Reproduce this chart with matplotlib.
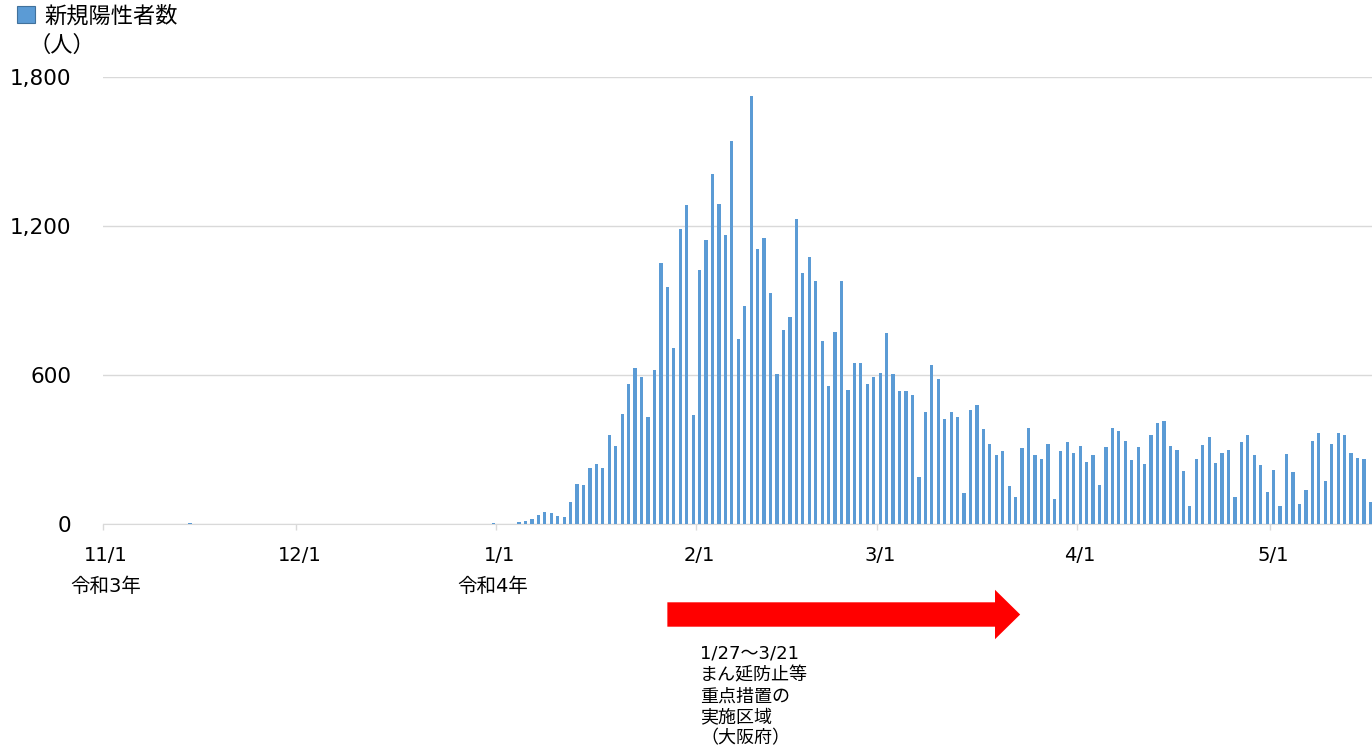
import numpy as np
import pandas as pd
import matplotlib
matplotlib.use("Agg")
import matplotlib.pyplot as plt
from matplotlib.patches import Polygon, Patch
from matplotlib.transforms import blended_transform_factory
from matplotlib.ticker import FuncFormatter

plt.rcParams['font.family'] = ['DejaVu Sans', 'Noto Sans CJK JP']

# daily new positive cases, 2021-11-01 .. 2022-05-16
dates = pd.date_range("2021-11-01", "2022-05-16", freq="D")
cases_early = [
    0, 0, 0, 0, 0, 0, 1, 0, 1, 0,
    1, 0, 2, 4, 0, 0, 0, 0, 0, 0,
    1, 0, 0, 0, 1, 0, 1, 0, 0, 0,
    0, 2, 0, 0, 0, 0, 0, 0, 0, 0,
    1, 0, 0, 0, 0, 0, 0, 1, 0, 0,
    0, 0, 0, 0, 0, 1, 0, 0, 2, 0,
    5, 0, 0, 0,
]
cases_wave = [
    7, 12, 19, 36, 47, 46, 31, 28, 89, 160,
    157, 224, 240, 224, 357, 315, 441, 565, 628, 590,
    430, 620, 1052, 956, 709, 1188, 1285, 439, 1024, 1144,
    1411, 1289, 1164, 1544, 746, 877, 1725, 1107, 1153, 932,
    604, 781, 835, 1228, 1012, 1074, 980, 737, 557, 773,
    978, 541, 648, 648, 562, 590, 608, 770, 604, 537,
    537, 521, 189, 452, 641, 585, 421, 452, 432, 123,
    458, 478, 384, 322, 279, 294, 153, 107, 307, 385,
    276, 263, 321, 102, 294, 331, 285, 313, 251, 278,
    156, 309, 387, 374, 334, 258, 310, 242, 358, 407,
    415, 313, 297, 213, 74, 260, 319, 350, 247, 287,
    298, 110, 330, 358, 278, 236, 129, 217, 71, 283,
    209, 82, 137, 334, 365, 173, 322, 365, 357, 286,
    264, 260, 89,
]
cases = cases_early + cases_wave

month_labels = ["11/1", "12/1", "1/1", "2/1", "3/1", "4/1", "5/1"]
era_labels = ["令和3年", "令和4年"]
era_dates = ["2021-11-01", "2021-12-31"]
measure_start = "2022-01-27"
measure_end = "2022-03-21"
measure_text = "1/27～3/21\nまん延防止等\n重点措置の\n実施区域\n（大阪府）"

bar_color = "#5B9BD5"
grid_color = "#D9D9D9"

x = np.arange(len(dates))
month_pos = np.where(dates.day == 1)[0]

fig = plt.figure(figsize=(13.72, 7.49), dpi=100)
ax = fig.add_axes([103 / 1372, 1 - 524 / 749, 1 - 103 / 1372, (524 - 77) / 749])

ax.bar(x, cases, width=0.5, color=bar_color, linewidth=0, zorder=3)

ax.set_xlim(-0.5, 196.25)
ax.set_ylim(0, 1800)
ax.set_yticks([0, 600, 1200, 1800])
ax.yaxis.set_major_formatter(FuncFormatter(lambda v, p: f"{int(v):,}"))
ax.tick_params(axis="y", length=0, pad=23, labelsize=15.5, colors="black")
ax.grid(axis="y", color=grid_color, linewidth=1, zorder=0)

# tick marks between days at month starts, labels under the day itself
ax.set_xticks(month_pos - 0.5)
ax.set_xticklabels([])
ax.tick_params(axis="x", which="major", length=4, color=grid_color, width=1)
ax.set_xticks(month_pos, month_labels, minor=True)
ax.tick_params(axis="x", which="minor", length=0, pad=16, labelsize=14, labelcolor="black")

for side in ["top", "right", "left"]:
    ax.spines[side].set_visible(False)
ax.spines["bottom"].set_color(grid_color)

trans = blended_transform_factory(ax.transData, fig.transFigure)
for lab, d in zip(era_labels, era_dates):
    pos = dates.get_loc(pd.Timestamp(d))
    ax.text(pos, 1 - 586 / 749, lab, transform=trans, ha="center", va="center",
            fontsize=14, color="black")

# legend + unit
ax.legend(handles=[Patch(facecolor=bar_color, edgecolor="#41719C", linewidth=0.8)],
          labels=["新規陽性者数"], loc="upper left",
          bbox_to_anchor=(17 / 1372, 1 - 5 / 749), bbox_transform=fig.transFigure,
          frameon=False, fontsize=16, handlelength=0.8, handleheight=0.8,
          handletextpad=0.45, borderpad=0, borderaxespad=0)
fig.text(28 / 1372, 1 - 45 / 749, "（人）", fontsize=16, va="center", ha="left")

# red arrow for the priority measures period
i0 = dates.get_loc(pd.Timestamp(measure_start))
i1 = dates.get_loc(pd.Timestamp(measure_end))
tip = i1 + 1.7
base = tip - 3.9
yc = 1 - 614.5 / 749
bh = 12.2 / 749
hh = 24.7 / 749
arrow = Polygon([(i0, yc + bh), (base, yc + bh), (base, yc + hh), (tip, yc),
                 (base, yc - hh), (base, yc - bh), (i0, yc - bh)],
                closed=True, facecolor="#FF0000", edgecolor="none",
                transform=trans, clip_on=False)
fig.add_artist(arrow)

fig.text(700 / 1372, 1 - 645 / 749, measure_text, fontsize=13, va="top", ha="left",
         linespacing=1.22, color="black")

fig.savefig("out.png", dpi=100)
